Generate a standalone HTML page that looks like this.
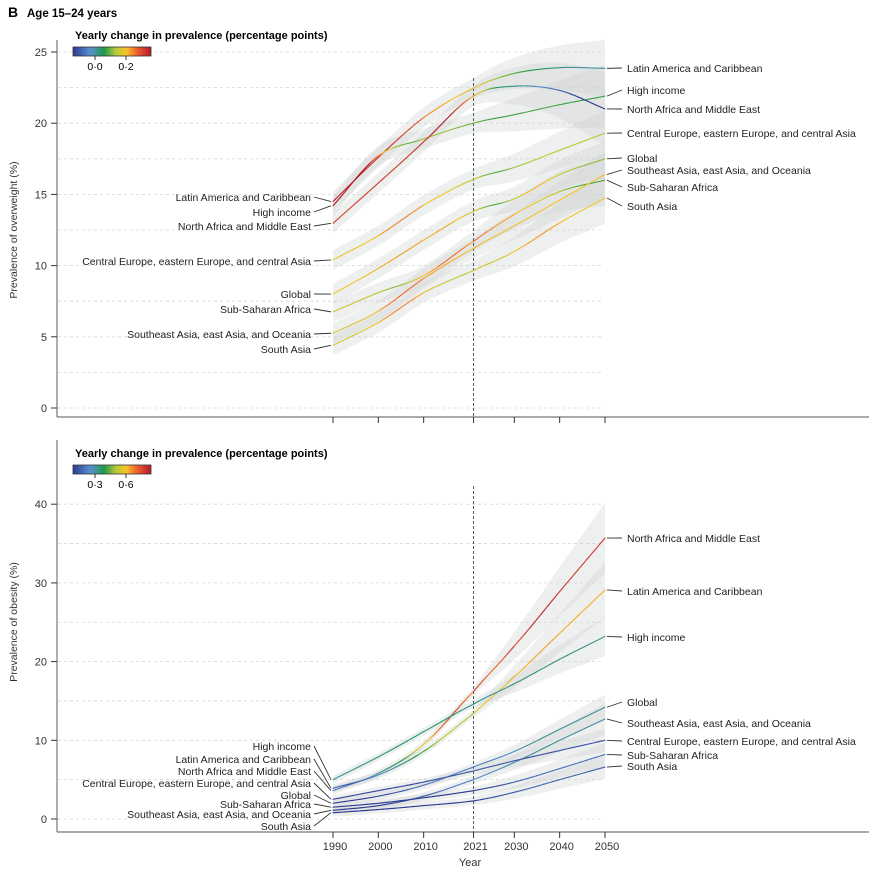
<!DOCTYPE html>
<html><head><meta charset="utf-8"><style>
body{margin:0;background:#fff;}
svg{display:block;font-family:"Liberation Sans",sans-serif;}
</style></head><body>
<svg id="chart" width="869" height="875" viewBox="0 0 869 875">
<defs>
<linearGradient id="cmap" x1="0" x2="1" y1="0" y2="0">
<stop offset="0" stop-color="#2b3a93"/><stop offset="0.22" stop-color="#5a8fcf"/><stop offset="0.4" stop-color="#1f9a4c"/><stop offset="0.55" stop-color="#b8c93a"/><stop offset="0.68" stop-color="#f5c52a"/><stop offset="0.82" stop-color="#f0602f"/><stop offset="1" stop-color="#b0182a"/>
</linearGradient>
</defs>
<text x="8" y="17" font-weight="bold" font-size="14">B</text>
<text x="27" y="17" font-weight="bold" font-size="11.5">Age 15–24 years</text>
<g id="g-top"></g>
<g id="g-bot"></g>
<text x="470" y="866" font-size="11" text-anchor="middle" fill="#333">Year</text>
</svg>
<script>
const years = [1990, 2000, 2010, 2021, 2030, 2040, 2050];
const xTickLabels = ["1990", "2000", "2010", "2021", "2030", "2040", "2050"];
const topRegions = ["Latin America and Caribbean", "High income", "North Africa and Middle East", "Central Europe, eastern Europe, and central Asia", "Global", "Sub-Saharan Africa", "Southeast Asia, east Asia, and Oceania", "South Asia"];
const topLatAm = [14.5, 17.6, 20.4, 22.45, 23.5, 23.9, 23.85];
const topHighIncome = [14.2, 17.7, 18.9, 20.0, 20.6, 21.3, 21.9];
const topNAME = [12.97, 15.8, 18.7, 21.9, 22.6, 22.3, 21.0];
const topCentralEurope = [10.4, 12.1, 14.25, 16.05, 16.9, 18.1, 19.3];
const topGlobal = [8.0, 9.8, 11.8, 13.8, 14.7, 16.4, 17.5];
const topSSA = [6.75, 8.1, 9.3, 11.7, 13.6, 15.2, 16.0];
const topSEAsia = [5.25, 6.8, 9.1, 11.2, 12.8, 14.6, 16.4];
const topSouthAsia = [4.4, 6.0, 8.1, 9.65, 11.0, 13.0, 14.75];
const topTicks = [0, 5, 10, 15, 20, 25];
const topBandHalf2050 = [2.0, 2.2, 2.6, 1.6, 1.2, 1.8, 1.6, 1.8];
const botRegions = ["North Africa and Middle East", "Latin America and Caribbean", "High income", "Global", "Southeast Asia, east Asia, and Oceania", "Central Europe, eastern Europe, and central Asia", "Sub-Saharan Africa", "South Asia"];
const botNAME = [3.6, 5.8, 9.5, 16.2, 22.0, 28.9, 35.7];
const botLatAm = [3.9, 5.6, 8.6, 13.4, 18.1, 23.6, 29.1];
const botHighIncome = [5.0, 7.9, 11.1, 14.6, 17.2, 20.3, 23.2];
const botGlobal = [2.0, 2.9, 4.3, 6.6, 8.6, 11.4, 14.2];
const botSEAsia = [1.1, 1.7, 2.9, 5.0, 7.2, 10.0, 12.7];
const botCentralEurope = [2.5, 3.6, 4.7, 6.1, 7.4, 8.7, 10.0];
const botSSA = [1.5, 2.0, 2.7, 3.6, 4.7, 6.4, 8.2];
const botSouthAsia = [0.8, 1.2, 1.7, 2.3, 3.4, 5.0, 6.6];
const botTicks = [0, 10, 20, 30, 40];
const botBandHalf2050 = [4.5, 3.5, 2.5, 1.6, 2.0, 1.5, 1.5, 1.5];

const NS = "http://www.w3.org/2000/svg";
function mk(parent, tag, attrs) { const e = document.createElementNS(NS, tag); for (const k in attrs) e.setAttribute(k, attrs[k]); parent.appendChild(e); return e; }
const xScale = y => 333 + (y - 1990) * (272 / 60);
const stops = [[0,[43,58,147]],[0.22,[90,143,207]],[0.4,[31,154,76]],[0.55,[184,201,58]],[0.68,[245,197,42]],[0.82,[240,96,47]],[1,[176,24,42]]];
function cmap(t) { t = Math.max(0, Math.min(1, t)); for (let i = 1; i < stops.length; i++) { if (t <= stops[i][0]) { const a = stops[i-1], b = stops[i]; const f = (t - a[0]) / (b[0] - a[0]); const c = a[1].map((v, j) => Math.round(v + (b[1][j] - v) * f)); return `rgb(${c})`; } } return "rgb(176,24,42)"; }
function evalCurve(vals, yr) {
  let i = 0; while (i < years.length - 2 && yr > years[i + 1]) i++;
  const x0 = years[i], x1 = years[i + 1], t = (yr - x0) / (x1 - x0);
  const p0 = vals[Math.max(0, i - 1)], p1 = vals[i], p2 = vals[i + 1], p3 = vals[Math.min(vals.length - 1, i + 2)];
  const m1 = i > 0 ? (p2 - p0) / 2 : (p2 - p1), m2 = i + 2 < vals.length ? (p3 - p1) / 2 : (p2 - p1);
  const t2 = t * t, t3 = t2 * t;
  return (2*t3 - 3*t2 + 1) * p1 + (t3 - 2*t2 + t) * m1 + (-2*t3 + 3*t2) * p2 + (t3 - t2) * m2;
}
function drawPanel(cfg) {
  const g = document.getElementById(cfg.gid);
  const yS = v => cfg.y0 - v * cfg.ppu;
  for (let v = 0; v <= cfg.gridMax; v += cfg.gridStep) {
    const gl = mk(g, "line", {x1: 58, x2: 604, y1: yS(v), y2: yS(v), stroke: "#d6d6d6", "stroke-width": 0.8, "stroke-dasharray": "3,3"});
    
    
  }
  cfg.series.forEach((vals, k) => {
    const up = [], lo = [];
    for (let yr = 1990; yr <= 2050; yr += 0.5) {
      const v = evalCurve(vals, yr);
      const w = cfg.w0 + (yr > 2021 ? (yr - 2021) / 29 * (cfg.bands[k] - cfg.w0) : 0);
      up.push([xScale(yr), yS(v + w)]); lo.push([xScale(yr), yS(Math.max(0, v - w))]);
    }
    const pts = up.concat(lo.reverse()).map(p => p.join(",")).join(" ");
    const b = mk(g, "polygon", {points: pts, fill: "#cfd2d2", "fill-opacity": 0.35});
    
    
  });
  const dl = mk(g, "line", {x1: xScale(2021), x2: xScale(2021), y1: cfg.dashTop, y2: cfg.axisY, stroke: "#4a5a66", "stroke-width": 1, "stroke-dasharray": "3,2"});
  
  
  cfg.series.forEach((vals, k) => {
    const sg = mk(g, "g", {});
    
    
    const step = 0.5;
    for (let yr = 1990; yr < 2050; yr += step) {
      const a = evalCurve(vals, yr), b = evalCurve(vals, yr + step);
      const slope = (b - a) / step;
      mk(sg, "line", {x1: xScale(yr), y1: yS(a), x2: xScale(yr + step), y2: yS(b), stroke: cmap((slope - cfg.cmin) / (cfg.cmax - cfg.cmin)), "stroke-width": 1.1, "stroke-linecap": "round"});
    }
  });
  const ya = mk(g, "line", {x1: 57, x2: 57, y1: cfg.axisTop, y2: cfg.axisY, stroke: "#777", "stroke-width": 1.2});
   
  const xa = mk(g, "line", {x1: 57, x2: 869, y1: cfg.axisY, y2: cfg.axisY, stroke: "#777", "stroke-width": 1.2});
   
  cfg.ticks.forEach(v => {
    mk(g, "line", {x1: 51, x2: 57, y1: yS(v), y2: yS(v), stroke: "#333"});
    const t = mk(g, "text", {x: 47, y: yS(v) + 4, "text-anchor": "end", "font-size": 11, fill: "#333"});
    t.textContent = String(v);
    
    
  });
  years.forEach((yr, i) => {
    mk(g, "line", {x1: xScale(yr), x2: xScale(yr), y1: cfg.axisY, y2: cfg.axisY + 6, stroke: "#333"});
    if (cfg.xLabels) {
      const t = mk(g, "text", {x: xScale(yr) + 2, y: cfg.axisY + 18, "text-anchor": "middle", "font-size": 11, fill: "#333"});
      t.textContent = xTickLabels[i];
      
      
    }
  });
  const yt = mk(g, "text", {x: 0, y: 0, transform: `translate(17,${cfg.titleY}) rotate(-90)`, "text-anchor": "middle", "font-size": 10.5, fill: "#333"});
  yt.textContent = cfg.yTitle;
  
  
  const cb = mk(g, "rect", {x: 73, y: cfg.cbY, width: 78, height: 9, fill: "url(#cmap)", stroke: "#333", "stroke-width": 0.8});
   
  const ct = mk(g, "text", {x: 75, y: cfg.cbY - 8, "font-size": 11, "font-weight": "bold"});
  ct.textContent = "Yearly change in prevalence (percentage points)";
   
  cfg.cbTicks.forEach((lab, i) => {
    const x = [95, 126][i];
    mk(g, "line", {x1: x, x2: x, y1: cfg.cbY + 9, y2: cfg.cbY + 13, stroke: "#333"});
    const t = mk(g, "text", {x: x, y: cfg.cbY + 23, "text-anchor": "middle", "font-size": 10.5});
    t.textContent = lab;
     
  });
  cfg.leftLabels.forEach(([k, ly]) => {
    const y0 = yS(cfg.series[k][0]);
    mk(g, "line", {x1: 314, y1: ly, x2: 331, y2: y0, stroke: "#333", "stroke-width": 0.9});
    const t = mk(g, "text", {x: 311, y: ly + 4, "text-anchor": "end", "font-size": 10.5, fill: "#222"});
    t.textContent = cfg.names[k];
     
  });
  cfg.rightLabels.forEach(([k, ly]) => {
    const y1 = yS(cfg.series[k][6]);
    mk(g, "line", {x1: 607, y1: y1, x2: 622, y2: ly, stroke: "#333", "stroke-width": 0.9});
    const t = mk(g, "text", {x: 627, y: ly + 4, "font-size": 10.5, fill: "#222"});
    t.textContent = cfg.names[k];
     
  });
}
drawPanel({gid: "g-top", y0: 408, ppu: 14.24, gridMax: 25, gridStep: 2.5, axisTop: 40, axisY: 417, dashTop: 78,
  series: [topLatAm, topHighIncome, topNAME, topCentralEurope, topGlobal, topSSA, topSEAsia, topSouthAsia], names: topRegions,
  bands: topBandHalf2050, w0: 0.7, cmin: -0.14, cmax: 0.33, ticks: topTicks, xLabels: false, yTitle: "Prevalence of overweight (%)", titleY: 230,
  cbY: 47, cbTicks: ["0·0", "0·2"],
  leftLabels: [[0,197],[1,212],[2,226],[3,261],[4,294],[5,309],[6,334],[7,349]],
  rightLabels: [[0,68],[1,90],[2,109],[3,133],[4,158],[6,170],[5,187],[7,206]]});
drawPanel({gid: "g-bot", y0: 819, ppu: 7.87, gridMax: 40, gridStep: 5, axisTop: 440, axisY: 832, dashTop: 486,
  series: [botNAME, botLatAm, botHighIncome, botGlobal, botSEAsia, botCentralEurope, botSSA, botSouthAsia], names: botRegions,
  bands: botBandHalf2050, w0: 0.5, cmin: 0.087, cmax: 0.74, ticks: botTicks, xLabels: true, yTitle: "Prevalence of obesity (%)", titleY: 622,
  cbY: 465, cbTicks: ["0·3", "0·6"],
  leftLabels: [[2,746],[1,759],[0,771],[5,783],[3,795],[6,804],[4,814],[7,826]],
  rightLabels: [[0,538],[1,591],[2,637],[3,702],[4,723],[5,741],[6,755],[7,766]]});
</script>
</body></html>
